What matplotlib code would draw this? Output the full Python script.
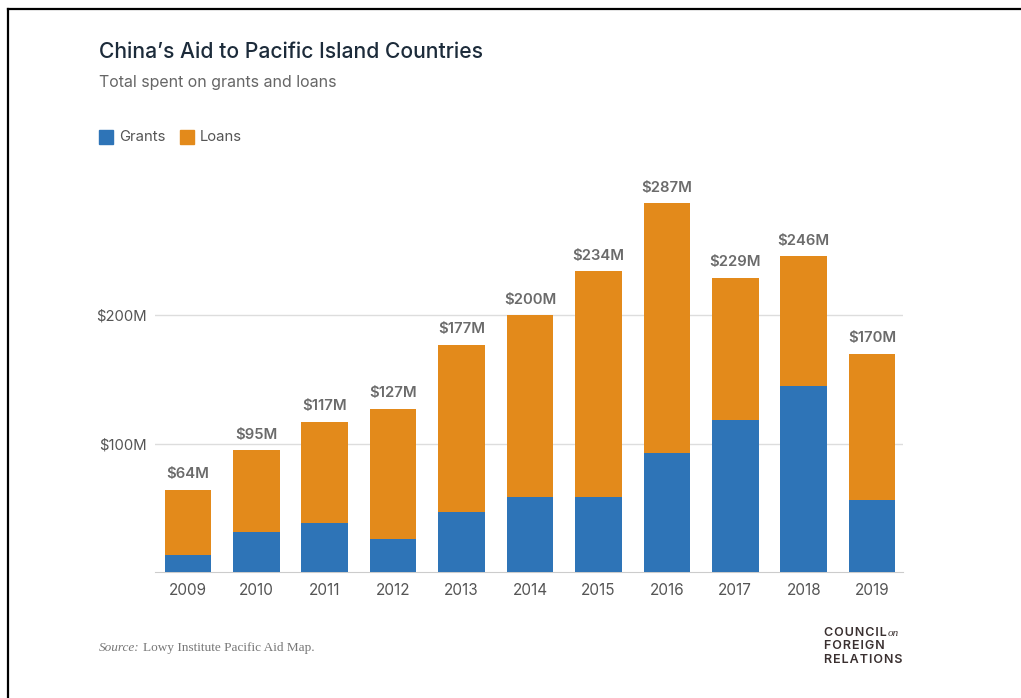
import matplotlib
matplotlib.use("Agg")
import matplotlib.pyplot as plt
from matplotlib.lines import Line2D
import numpy as np

# data ($ millions)
years = ["2009", "2010", "2011", "2012", "2013", "2014", "2015", "2016", "2017", "2018", "2019"]
totals = [64, 95, 117, 127, 177, 200, 234, 287, 229, 246, 170]
grants = [13, 31, 38, 26, 47, 58, 58, 93, 118, 145, 56]
loans = [t - g for t, g in zip(totals, grants)]
ytick_vals = [100, 200]
ytick_labels = ["$100M", "$200M"]

BLUE = "#2e74b7"
ORANGE = "#e38a1b"
GREY = "#6b6b6b"
NAVY = "#1c2b3a"

plt.rcParams["font.family"] = ["Inter", "DejaVu Sans"]

fig = plt.figure(figsize=(10.21, 6.98), dpi=100)
ax = fig.add_axes([0.1518, 0.1805, 0.7326, 0.5523])

x = np.arange(len(years))
ax.bar(x, grants, width=0.68, color=BLUE, zorder=3)
ax.bar(x, loans, width=0.68, bottom=grants, color=ORANGE, zorder=3)

for xi, t in zip(x, totals):
    ax.annotate(f"${t}M", (xi, t), xytext=(0, 6), textcoords="offset points",
                ha="center", va="bottom", fontsize=10.7, color=GREY,
                fontweight="semibold", clip_on=False)

ax.set_xlim(-0.48, 10.45)
ax.set_ylim(0, 300)
ax.set_xticks(x)
ax.set_xticklabels(years, fontsize=11, color="#555555")
ax.set_yticks(ytick_vals)
ax.set_yticklabels(ytick_labels, fontsize=10.7, color="#555555")
ax.tick_params(length=0, pad=8)
ax.tick_params(axis="y", pad=6)
ax.grid(axis="y", color="#dddddd", linewidth=1, zorder=0)
for s in ["top", "right", "left"]:
    ax.spines[s].set_visible(False)
ax.spines["bottom"].set_color("#cccccc")

# headings
fig.text(99 / 1021, 1 - 52 / 698, "China\u2019s Aid to Pacific Island Countries",
         fontsize=15.2, color=NAVY, fontweight="medium", va="center", ha="left")
fig.text(99 / 1021, 1 - 83 / 698, "Total spent on grants and loans",
         fontsize=11.5, color="#666666", va="center", ha="left")

# legend
fig.patches.append(plt.Rectangle((99 / 1021, 1 - 144 / 698), 14 / 1021, 14 / 698,
                                 transform=fig.transFigure, color=BLUE))
fig.text(119 / 1021, 1 - 137 / 698, "Grants", fontsize=10.7, color="#555555", va="center")
fig.patches.append(plt.Rectangle((180 / 1021, 1 - 144 / 698), 14 / 1021, 14 / 698,
                                 transform=fig.transFigure, color=ORANGE))
fig.text(200 / 1021, 1 - 137 / 698, "Loans", fontsize=10.7, color="#555555", va="center")

# source
src = fig.text(99 / 1021, 1 - 648 / 698, "Source:", fontsize=9.5, color="#777777",
               family="Liberation Serif", style="italic", va="center")
fig.canvas.draw()
bb = src.get_window_extent()
fig.text(bb.x1 / 1021 + 3 / 1021, 1 - 648 / 698, "Lowy Institute Pacific Aid Map.",
         fontsize=9.5, color="#777777", family="Liberation Serif", va="center")

# CFR logo
logo_kw = dict(fontsize=9, color="#3a3030", fontweight="semibold", va="center", ha="left")
c = fig.text(824 / 1021, 1 - 633 / 698, "C\u200aO\u200aU\u200aN\u200aC\u200aI\u200aL", **logo_kw)
fig.canvas.draw()
cb = c.get_window_extent()
fig.text(cb.x1 / 1021 + 1 / 1021, 1 - 634 / 698, "on", fontsize=8, color="#3a3030",
         family="Liberation Serif", style="italic", va="center")
fig.text(824 / 1021, 1 - 646 / 698, "F\u200aO\u200aR\u200aE\u200aI\u200aG\u200aN", **logo_kw)
fig.text(824 / 1021, 1 - 660 / 698, "R\u200aE\u200aL\u200aA\u200aT\u200aI\u200aO\u200aN\u200aS", **logo_kw)

# frame lines (left and top)
fig.lines.append(Line2D([7.5 / 1021, 7.5 / 1021], [0, 1 - 8.5 / 698],
                        transform=fig.transFigure, color="black", linewidth=1.6))
fig.lines.append(Line2D([7.5 / 1021, 1], [1 - 8.5 / 698, 1 - 8.5 / 698],
                        transform=fig.transFigure, color="black", linewidth=1.6))

fig.savefig("out.png", dpi=100, facecolor="white")
